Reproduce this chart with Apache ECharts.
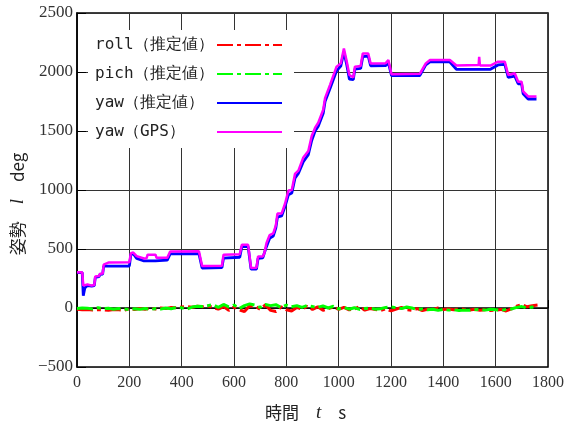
<!DOCTYPE html>
<html>
<head>
<meta charset="utf-8">
<script src="https://cdn.jsdelivr.net/npm/echarts@6/dist/echarts.min.js"></script>
<style>
  html, body { margin: 0; padding: 0; background: #fff; }
  #chart { width: 574px; height: 427px; }
</style>
</head>
<body>
<div id="chart"></div>
<script>
// yaw (GPS): [time s, deg]
const yawGps = [
  [0, 303], [20, 303], [24, 190], [40, 200], [56, 190], [66, 195], [70, 268], [84, 272], [88, 290], [98, 292],
  [102, 367], [120, 385], [200, 387], [206, 465], [215, 470], [228, 440], [256, 420], [266, 422], [270, 452], [300, 452],
  [304, 425], [345, 425], [356, 478], [466, 480], [478, 355], [554, 358], [560, 452], [622, 455], [630, 535], [654, 535],
  [665, 340], [686, 342], [692, 437], [710, 437], [716, 465], [724, 549], [736, 618], [750, 632], [760, 700], [766, 800],
  [782, 800], [795, 884], [808, 996], [821, 1000], [833, 1136], [846, 1164], [865, 1276], [884, 1331], [897, 1457], [910, 1528],
  [922, 1570], [941, 1680], [948, 1779], [967, 1891], [992, 2045], [1008, 2073], [1020, 2199], [1031, 2087], [1041, 1975], [1056, 1953],
  [1062, 2045], [1084, 2050], [1092, 2157], [1113, 2157], [1122, 2073], [1180, 2075], [1190, 2101], [1202, 1981], [1310, 1985], [1333, 2073],
  [1349, 2101], [1425, 2101], [1450, 2055], [1535, 2059], [1537, 2128], [1540, 2055], [1580, 2055], [1609, 2087], [1635, 2087], [1648, 1975],
  [1673, 1989], [1686, 1918], [1699, 1918], [1705, 1835], [1724, 1793], [1756, 1793]
];

// yaw (推定値)
const yawEst = [
  [0, 300], [20, 300], [24, 104], [30, 170], [40, 190], [56, 185], [66, 190], [70, 260], [84, 265], [88, 285], [98, 287],
  [102, 355], [200, 355], [206, 455], [215, 460], [228, 420], [256, 400], [300, 400], [345, 405], [356, 459], [466, 460],
  [478, 339], [554, 342], [560, 423], [622, 430], [630, 520], [654, 520], [665, 330], [686, 330], [692, 420], [710, 425],
  [716, 440], [724, 520], [736, 590], [750, 610], [760, 680], [766, 770], [782, 780], [795, 860], [808, 960], [821, 975],
  [833, 1100], [846, 1140], [865, 1240], [884, 1300], [897, 1420], [910, 1500], [922, 1540], [941, 1650], [948, 1750], [967, 1860],
  [992, 2010], [1008, 2050], [1020, 2170], [1031, 2060], [1041, 1939], [1056, 1935], [1062, 2025], [1084, 2030], [1092, 2130], [1113, 2135],
  [1122, 2053], [1180, 2055], [1190, 2080], [1202, 1969], [1310, 1970], [1333, 2060], [1349, 2085], [1425, 2085], [1450, 2023], [1580, 2023],
  [1609, 2060], [1635, 2065], [1648, 1955], [1673, 1965], [1686, 1900], [1699, 1900], [1705, 1815], [1724, 1771], [1756, 1771]
];

// roll / pich sample times
const attTime = [
  0, 20, 40, 60, 80, 100, 120, 140, 160, 180, 200, 220, 240, 260, 280, 300, 320, 340, 360, 380,
  400, 420, 440, 460, 480, 500, 520, 540, 560, 580, 600, 620, 640, 660, 680, 700, 720, 740, 760, 780,
  800, 820, 840, 860, 880, 900, 920, 940, 960, 980, 1000, 1020, 1040, 1060, 1080, 1100, 1120, 1140, 1160, 1180,
  1200, 1220, 1240, 1260, 1280, 1300, 1320, 1340, 1360, 1380, 1400, 1420, 1440, 1460, 1480, 1500, 1520, 1540, 1560, 1580,
  1600, 1620, 1640, 1660, 1680, 1700, 1720, 1740, 1760
];
const roll = [
  -10, -15, -12, -18, -14, -16, -20, -12, -15, -18, -8, -12, -5, -10, -2, -8, 0, -5, 5, 2,
  8, 12, 6, 15, 10, 18, 5, -10, 12, -20, 8, -15, -30, 20, 15, -10, 25, -20, -30, 10,
  -15, -25, 5, -10, 15, -12, 10, -20, -5, 8, -12, 5, -15, -8, 10, -18, -5, -12, -20, -8,
  -25, -10, 5, -15, -20, -5, -22, -10, -15, 0, -12, -8, -15, -5, -12, -18, -10, -20, -15, -22,
  -18, -12, -25, -8, 15, 30, 10, 20, 25
];
const pich = [
  -5, 0, -3, -8, 2, -6, -2, -10, -5, -8, -15, -6, -10, -4, -12, -5, -8, 0, -6, 5,
  2, -10, 8, 15, 12, 20, 28, 5, 30, 10, 25, -5, 20, 35, 25, 5, 30, 20, 28, 5,
  25, 10, 20, 5, 22, 12, 5, 18, 0, 15, -8, 5, -10, 2, -12, -5, 0, -10, -6, 5,
  10, 2, -5, 8, 0, -12, -8, -15, -10, -20, -12, -18, -15, -22, -18, -20, -15, -12, -18, -10,
  -15, -20, -12, -8, 5, 12, 0, 8, 3
];

const chart = echarts.init(document.getElementById('chart'));

const serif = 'Liberation Serif, DejaVu Serif, serif';
const legendFont = 'DejaVu Sans Mono';

const option = {
  backgroundColor: '#fff',
  animation: false,
  grid: {
    left: 77, right: 26, top: 13, bottom: 57,
    show: true, borderColor: '#000', borderWidth: 1.5
  },
  legend: {
    orient: 'vertical',
    left: 88, top: 30,
    padding: [7, 11, 8, 7],
    itemGap: 13,
    itemWidth: 65, itemHeight: 16,
    align: 'right',
    backgroundColor: '#fff',
    itemStyle: { opacity: 0 },
    formatter: (name) => '{t|' + name + '}',
    textStyle: {
      fontFamily: legendFont, fontSize: 16, color: '#222',
      rich: { t: { width: 117, align: 'left', fontFamily: legendFont, fontSize: 16, color: '#222' } }
    },
    data: ['roll（推定値）', 'pich（推定値）', 'yaw（推定値）', 'yaw（GPS）']
  },
  xAxis: {
    type: 'value', min: 0, max: 1800, interval: 200,
    name: '{a|時間}　{i|t}　{a|s}',
    nameLocation: 'middle', nameGap: 36,
    nameTextStyle: {
      fontSize: 17,
      padding: [0, 14, 0, 0],
      rich: {
        a: { fontFamily: 'Noto Sans CJK JP', fontSize: 17, color: '#222' },
        i: { fontFamily: serif, fontStyle: 'italic', fontSize: 19, color: '#222' }
      }
    },
    axisLine: { lineStyle: { color: '#000', width: 1.5 } },
    axisTick: { inside: true, length: 8, lineStyle: { color: '#000' } },
    axisLabel: {
      fontFamily: serif, fontSize: 16, color: '#333', margin: 8,
      formatter: (v) => String(v)
    },
    splitLine: { lineStyle: { color: '#333', width: 1 } }
  },
  yAxis: {
    type: 'value', min: -500, max: 2500, interval: 500,
    name: '{a|姿勢}　{i|l}　{a|deg}',
    nameLocation: 'middle', nameGap: 50, nameRotate: 90,
    nameTextStyle: {
      fontSize: 17,
      padding: [0, 28, 0, 0],
      rich: {
        a: { fontFamily: 'Noto Sans CJK JP', fontSize: 17, color: '#222' },
        i: { fontFamily: serif, fontStyle: 'italic', fontSize: 19, color: '#222' }
      }
    },
    axisLine: { lineStyle: { color: '#000', width: 1.5 } },
    axisTick: { inside: true, length: 9, lineStyle: { color: '#000' } },
    axisLabel: {
      fontFamily: serif, fontSize: 17, color: '#333', margin: 4,
      formatter: (v) => String(v).replace('-', '−')
    },
    splitLine: { lineStyle: { color: '#333', width: 1 } }
  },
  series: [
    {
      name: 'roll（推定値）', type: 'line', symbol: 'none',
      data: attTime.map((t, i) => [t, roll[i]]),
      lineStyle: { color: '#ff0000', width: 3, type: [16, 4, 4, 4] },
      itemStyle: { color: '#ff0000' }
    },
    {
      name: 'pich（推定値）', type: 'line', symbol: 'none',
      data: attTime.map((t, i) => [t, pich[i]]),
      lineStyle: { color: '#00ff00', width: 3, type: [16, 4, 4, 4] },
      itemStyle: { color: '#00ff00' }
    },
    {
      name: 'yaw（推定値）', type: 'line', symbol: 'none',
      data: yawEst,
      lineStyle: { color: '#0000ff', width: 2.8 },
      itemStyle: { color: '#0000ff' }
    },
    {
      name: 'yaw（GPS）', type: 'line', symbol: 'none',
      data: yawGps,
      lineStyle: { color: '#ff00ff', width: 2.5 },
      itemStyle: { color: '#ff00ff' }
    }
  ]
};

chart.setOption(option);
</script>
</body>
</html>
